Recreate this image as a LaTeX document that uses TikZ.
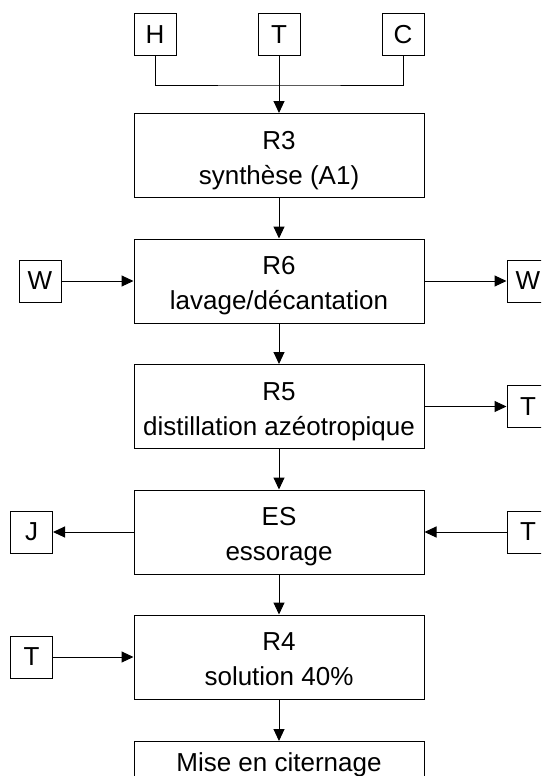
\documentclass[tikz,border=0pt]{standalone}
\usepackage{fontspec}
\setmainfont{Liberation Sans}
\usetikzlibrary{arrows.meta}
\begin{document}
\begin{tikzpicture}[x=1pt,y=-1pt,
  line width=1pt,
  every node/.style={font=\fontsize{26}{35}\selectfont},
  proc/.style={draw, minimum width=290pt, minimum height=84pt, inner sep=0pt,
    align=center, text height=63pt, text depth=6pt},
  flux/.style={draw, minimum width=42pt, minimum height=42pt, inner sep=0pt},
  arr/.style={-{Triangle[length=12pt,width=11pt]}}
]
\useasboundingbox (0,0) rectangle (541,776);
\clip (0,0) rectangle (541,776);

% process steps
\node[proc] (r3) at (279,155.5) {R3\\synthèse (A1)};
\node[proc] (r6) at (279,281) {R6\\lavage/décantation};
\node[proc] (r5) at (279,406.5) {R5\\distillation azéotropique};
\node[proc] (es) at (279,532) {ES\\essorage};
\node[proc] (r4) at (279,657) {R4\\solution 40\%};
\node[proc, anchor=north, text height=30pt, text depth=54pt] (mise) at (279,741) {Mise en citernage};

% inputs and outputs
\node[flux] (h)  at (155,35) {H};
\node[flux] (t0) at (279,35) {T};
\node[flux] (c)  at (403,35) {C};
\node[flux] (w1) at (40,281) {W};
\node[flux] (w2) at (528,281) {W};
\node[flux] (t1) at (528,406.5) {T};
\node[flux] (j)  at (31.5,532) {J};
\node[flux] (t2) at (528,532) {T};
\node[flux] (t3) at (31.5,657) {T};

% feed collector
\coordinate (jn) at (279,85);
\draw (h.south) |- (jn) -| (c.south);

% main line
\draw[arr] (t0) -- (r3);
\draw[arr] (r3) -- (r6);
\draw[arr] (r6) -- (r5);
\draw[arr] (r5) -- (es);
\draw[arr] (es) -- (r4);
\draw[arr] (r4) -- (mise);

% side streams
\draw[arr] (w1) -- (r6);
\draw[arr] (r6) -- (w2);
\draw[arr] (r5) -- (t1);
\draw[arr] (es) -- (j);
\draw[arr] (t2) -- (es);
\draw[arr] (t3) -- (r4);
\end{tikzpicture}
\end{document}
